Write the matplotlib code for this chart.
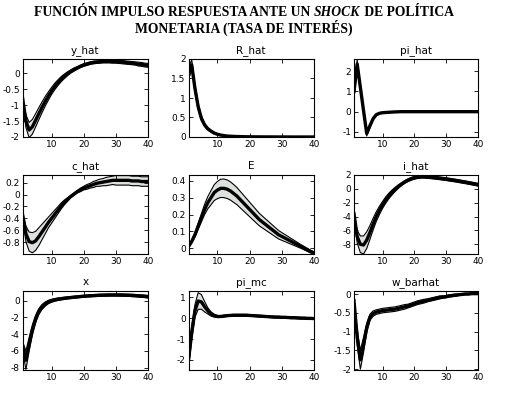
import numpy as np
import matplotlib
matplotlib.use("Agg")
import matplotlib.pyplot as plt

t = np.arange(1, 41)

# mean responses and band half-widths
y_hat = [-0.80, -1.50, -1.78, -1.68, -1.48, -1.27, -1.07, -0.88, -0.71, -0.55,
         -0.41, -0.29, -0.18, -0.09, -0.01, 0.06, 0.12, 0.17, 0.22, 0.26,
         0.29, 0.32, 0.34, 0.35, 0.36, 0.37, 0.37, 0.37, 0.37, 0.37,
         0.36, 0.35, 0.34, 0.33, 0.32, 0.31, 0.29, 0.28, 0.26, 0.25]
y_hat_bw = [0.05, 0.20, 0.24, 0.23, 0.21, 0.19, 0.17, 0.15, 0.13, 0.11,
            0.10, 0.09, 0.08, 0.07, 0.06, 0.05, 0.05, 0.04, 0.04, 0.04,
            0.04, 0.04, 0.04, 0.04, 0.04, 0.04, 0.04, 0.04, 0.05, 0.05,
            0.05, 0.05, 0.05, 0.05, 0.05, 0.05, 0.06, 0.06, 0.06, 0.06]

R_hat = [1.62, 1.85, 1.25, 0.78, 0.48, 0.31, 0.21, 0.15, 0.10, 0.07,
         0.05, 0.035, 0.025, 0.02, 0.015, 0.012, 0.01, 0.008, 0.006, 0.005,
         0.004, 0.004, 0.003, 0.003, 0.002, 0.002, 0.002, 0.001, 0.001, 0.001,
         0.001, 0.001, 0.0, 0.0, 0.0, 0.0, 0.0, 0.0, 0.0, 0.0]
R_hat_bw = [0.15, 0.13, 0.10, 0.08, 0.06, 0.04, 0.03, 0.025, 0.02, 0.015,
            0.01, 0.01, 0.008, 0.006, 0.005, 0.004, 0.004, 0.003, 0.003, 0.003,
            0.002, 0.002, 0.002, 0.002, 0.002, 0.002, 0.002, 0.002, 0.002, 0.002,
            0.002, 0.002, 0.002, 0.002, 0.002, 0.002, 0.002, 0.002, 0.002, 0.002]

pi_hat = [1.0, 2.35, 1.2, 0.05, -1.08, -0.70, -0.35, -0.15, -0.08, -0.05,
          -0.04, -0.03, -0.02, -0.01, -0.005, 0.0, 0.0, 0.0, 0.0, 0.0,
          0.0, 0.0, 0.0, 0.0, 0.0, 0.0, 0.0, 0.0, 0.0, 0.0,
          0.0, 0.0, 0.0, 0.0, 0.0, 0.0, 0.0, 0.0, 0.0, 0.0]
pi_hat_bw = [0.3, 0.22, 0.12, 0.08, 0.12, 0.08, 0.05, 0.03, 0.02, 0.015,
             0.01, 0.01, 0.008, 0.006, 0.005, 0.004, 0.004, 0.003, 0.003, 0.003,
             0.003, 0.003, 0.003, 0.003, 0.003, 0.003, 0.003, 0.003, 0.003, 0.003,
             0.003, 0.003, 0.003, 0.003, 0.003, 0.003, 0.003, 0.003, 0.003, 0.003]

c_hat = [-0.35, -0.66, -0.79, -0.81, -0.78, -0.71, -0.63, -0.55, -0.47, -0.40,
         -0.33, -0.26, -0.19, -0.13, -0.08, -0.03, 0.01, 0.05, 0.08, 0.11,
         0.13, 0.15, 0.17, 0.19, 0.20, 0.21, 0.22, 0.23, 0.24, 0.24,
         0.24, 0.24, 0.24, 0.24, 0.23, 0.23, 0.23, 0.22, 0.22, 0.22]
c_hat_bw = [0.05, 0.13, 0.16, 0.17, 0.16, 0.15, 0.13, 0.11, 0.09, 0.08,
            0.07, 0.06, 0.05, 0.04, 0.03, 0.02, 0.02, 0.02, 0.03, 0.03,
            0.04, 0.04, 0.05, 0.05, 0.06, 0.06, 0.07, 0.07, 0.07, 0.08,
            0.08, 0.08, 0.08, 0.08, 0.08, 0.08, 0.08, 0.08, 0.08, 0.08]

E = [0.01, 0.04, 0.08, 0.13, 0.18, 0.23, 0.27, 0.30, 0.33, 0.345,
     0.355, 0.355, 0.35, 0.34, 0.325, 0.31, 0.29, 0.27, 0.25, 0.23,
     0.21, 0.19, 0.17, 0.155, 0.14, 0.125, 0.11, 0.095, 0.08, 0.07,
     0.06, 0.05, 0.04, 0.03, 0.02, 0.01, 0.0, -0.01, -0.02, -0.028]
E_bw = [0.004, 0.008, 0.013, 0.018, 0.024, 0.030, 0.036, 0.042, 0.047, 0.051,
        0.054, 0.055, 0.055, 0.054, 0.053, 0.051, 0.049, 0.047, 0.045, 0.043,
        0.041, 0.039, 0.037, 0.035, 0.033, 0.031, 0.029, 0.027, 0.025, 0.023,
        0.021, 0.019, 0.017, 0.015, 0.013, 0.011, 0.010, 0.009, 0.008, 0.007]

i_hat = [-3.6, -6.9, -8.0, -8.1, -7.4, -6.3, -5.1, -4.0, -3.1, -2.3,
         -1.6, -1.0, -0.5, -0.05, 0.35, 0.7, 1.0, 1.25, 1.45, 1.6,
         1.7, 1.75, 1.75, 1.72, 1.68, 1.63, 1.58, 1.52, 1.46, 1.40,
         1.33, 1.26, 1.19, 1.11, 1.03, 0.95, 0.87, 0.78, 0.69, 0.60]
i_hat_bw = [0.2, 0.9, 1.2, 1.3, 1.2, 1.0, 0.85, 0.7, 0.6, 0.5,
            0.45, 0.4, 0.35, 0.3, 0.25, 0.2, 0.2, 0.2, 0.2, 0.2,
            0.2, 0.2, 0.2, 0.2, 0.2, 0.2, 0.2, 0.2, 0.2, 0.2,
            0.2, 0.2, 0.2, 0.2, 0.2, 0.2, 0.2, 0.2, 0.2, 0.2]

x_gap = [-5.5, -7.1, -5.2, -3.5, -2.2, -1.3, -0.75, -0.4, -0.15, 0.0,
         0.1, 0.18, 0.24, 0.29, 0.34, 0.38, 0.42, 0.46, 0.50, 0.53,
         0.56, 0.59, 0.61, 0.63, 0.65, 0.66, 0.67, 0.68, 0.68, 0.68,
         0.68, 0.67, 0.66, 0.65, 0.63, 0.61, 0.58, 0.55, 0.52, 0.48]
x_gap_bw = [0.6, 1.1, 0.8, 0.6, 0.45, 0.35, 0.3, 0.25, 0.2, 0.18,
            0.16, 0.15, 0.14, 0.13, 0.12, 0.12, 0.12, 0.12, 0.12, 0.12,
            0.12, 0.12, 0.12, 0.12, 0.12, 0.12, 0.12, 0.12, 0.12, 0.12,
            0.13, 0.13, 0.13, 0.13, 0.14, 0.14, 0.14, 0.15, 0.15, 0.15]

pi_mc = [-2.0, -0.7, 0.35, 0.82, 0.78, 0.55, 0.35, 0.20, 0.12, 0.08,
         0.08, 0.10, 0.12, 0.13, 0.14, 0.14, 0.14, 0.14, 0.14, 0.13,
         0.12, 0.11, 0.10, 0.09, 0.08, 0.07, 0.06, 0.05, 0.05, 0.04,
         0.04, 0.03, 0.02, 0.02, 0.01, 0.0, 0.0, -0.01, -0.01, -0.02]
pi_mc_bw = [0.4, 0.3, 0.3, 0.4, 0.35, 0.25, 0.15, 0.10, 0.07, 0.05,
            0.04, 0.04, 0.04, 0.04, 0.04, 0.04, 0.04, 0.04, 0.04, 0.04,
            0.04, 0.04, 0.04, 0.04, 0.04, 0.04, 0.04, 0.04, 0.04, 0.04,
            0.04, 0.04, 0.04, 0.04, 0.04, 0.04, 0.04, 0.04, 0.04, 0.04]

w_barhat = [-0.18, -1.15, -1.75, -1.35, -0.90, -0.62, -0.52, -0.48, -0.46, -0.44,
            -0.43, -0.42, -0.41, -0.40, -0.38, -0.36, -0.34, -0.32, -0.29, -0.26,
            -0.23, -0.21, -0.19, -0.17, -0.15, -0.13, -0.11, -0.09, -0.08, -0.07,
            -0.05, -0.04, -0.03, -0.02, -0.01, 0.0, 0.0, 0.01, 0.01, 0.01]
w_barhat_bw = [0.03, 0.20, 0.25, 0.20, 0.12, 0.08, 0.07, 0.06, 0.06, 0.06,
               0.06, 0.06, 0.06, 0.06, 0.06, 0.06, 0.06, 0.05, 0.05, 0.05,
               0.05, 0.05, 0.05, 0.04, 0.04, 0.04, 0.04, 0.04, 0.03, 0.03,
               0.03, 0.03, 0.03, 0.02, 0.02, 0.02, 0.02, 0.02, 0.02, 0.02]

names = ["y_hat", "R_hat", "pi_hat", "c_hat", "E", "i_hat", "x", "pi_mc", "w_barhat"]
series = [(y_hat, y_hat_bw), (R_hat, R_hat_bw), (pi_hat, pi_hat_bw),
          (c_hat, c_hat_bw), (E, E_bw), (i_hat, i_hat_bw),
          (x_gap, x_gap_bw), (pi_mc, pi_mc_bw), (w_barhat, w_barhat_bw)]
ylims = [(-2, 0.45), (0, 2), (-1.25, 2.6),
         (-1.0, 0.33), (-0.034, 0.434), (-9.4, 2.0),
         (-8.27, 1.16), (-2.48, 1.3), (-2.02, 0.08)]
yticks = [[-2, -1.5, -1, -0.5, 0], [0, 0.5, 1, 1.5, 2], [-1, 0, 1, 2],
          [-0.8, -0.6, -0.4, -0.2, 0, 0.2], [0, 0.1, 0.2, 0.3, 0.4], [-8, -6, -4, -2, 0, 2],
          [-8, -6, -4, -2, 0], [-2, -1, 0, 1], [-2, -1.5, -1, -0.5, 0]]

W, H = 514, 397
fig = plt.figure(figsize=(W / 100, H / 100), dpi=100)

lefts = [22.7, 188.5, 354]
rights = [148, 314, 478]
tops = [59, 175, 291]
bottoms = [137, 254, 370]

for k, name in enumerate(names):
    r, c = divmod(k, 3)
    ax = fig.add_axes([lefts[c] / W, 1 - bottoms[r] / H,
                       (rights[c] - lefts[c]) / W, (bottoms[r] - tops[r]) / H])
    m = np.array(series[k][0])
    bw = np.array(series[k][1])
    lo, hi = m - bw, m + bw
    ax.fill_between(t, lo, hi, color="#dce1de", lw=0)
    ax.plot(t, lo, color="black", lw=0.8)
    ax.plot(t, hi, color="black", lw=0.8)
    ax.plot(t, m, color="black", lw=2.4)
    ax.set_xlim(1, 40)
    ax.set_ylim(*ylims[k])
    ax.set_xticks([10, 20, 30, 40])
    ax.set_yticks(yticks[k])
    ax.set_yticklabels(["%g" % v for v in yticks[k]])
    ax.tick_params(direction="in", length=3, width=0.6, labelsize=6.5,
                   top=True, right=True, pad=2)
    for s in ax.spines.values():
        s.set_linewidth(0.8)
    ax.set_title(name, fontsize=7.5, pad=4)

# two-line title, italic "SHOCK" in the first line
tf = dict(family="Liberation Serif", weight="bold", size=9.8, va="center")
parts = [("FUNCIÓN IMPULSO RESPUESTA ANTE UN ", "normal"), ("SHOCK", "italic"),
         (" DE POLÍTICA", "normal")]
texts = [fig.text(0, 1 - 12 / H, s, style=st, **tf) for s, st in parts]
fig.canvas.draw()
rend = fig.canvas.get_renderer()
widths = [tx.get_window_extent(rend).width for tx in texts]
x0 = 244 - sum(widths) / 2
for tx, w in zip(texts, widths):
    tx.set_x(x0 / W)
    x0 += w
fig.text(244 / W, 1 - 28 / H, "MONETARIA (TASA DE INTERÉS)", ha="center", **tf)

fig.savefig("out.png", dpi=100)
